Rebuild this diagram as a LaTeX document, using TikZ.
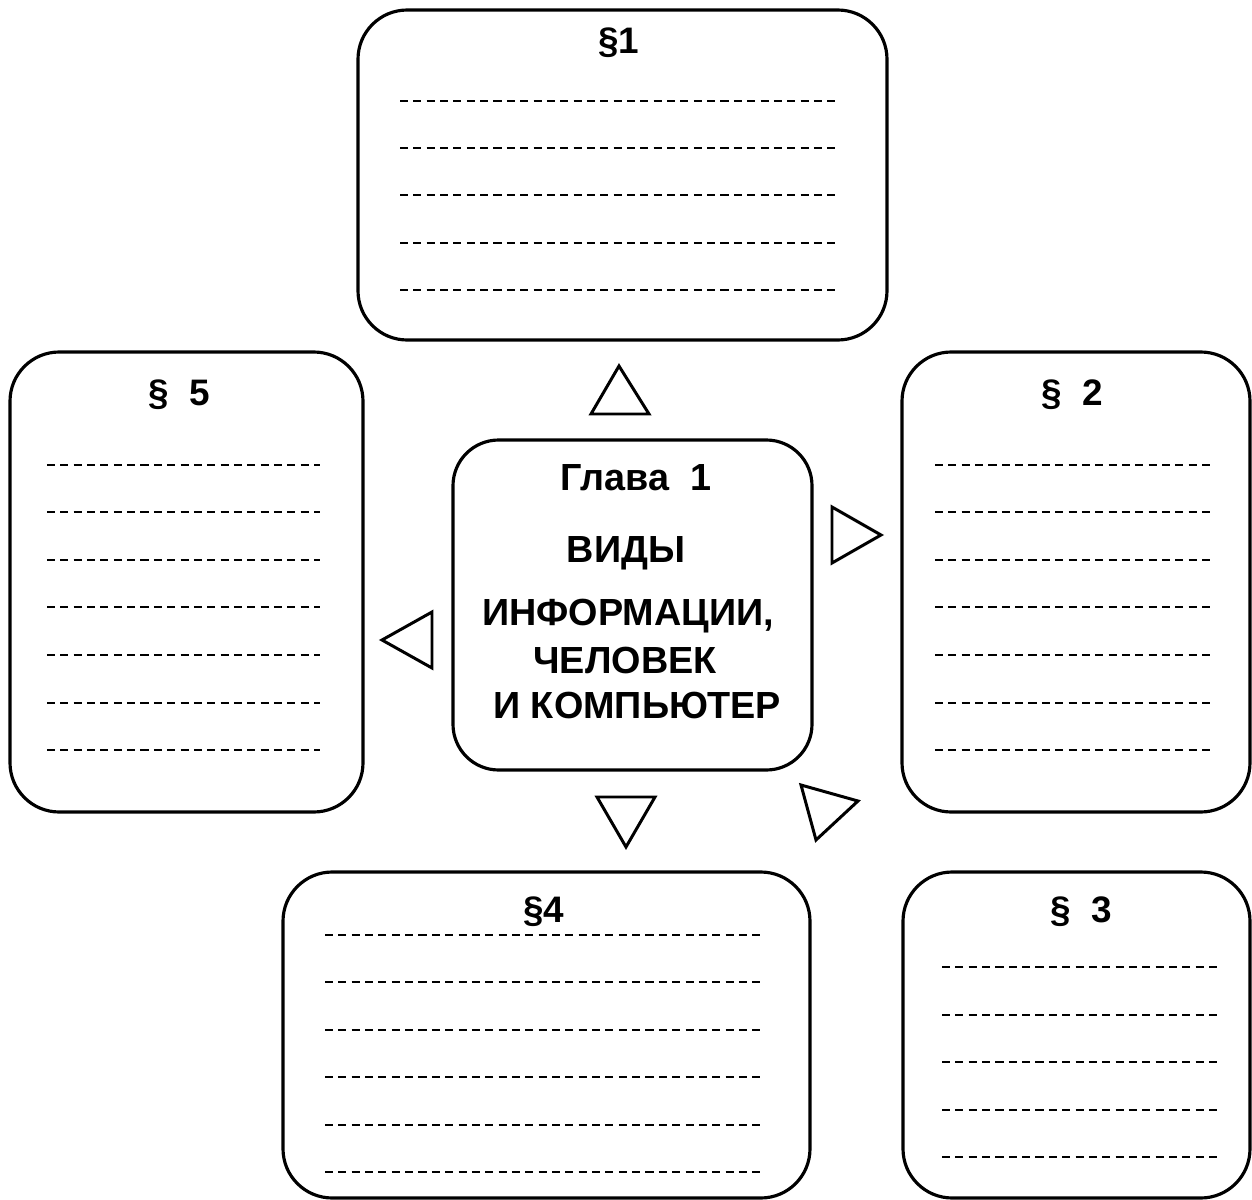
\documentclass[tikz,border=0pt]{standalone}
\usepackage{fontspec}
\setmainfont{Liberation Sans}
\tikzset{
  box/.style={line width=1.8pt, rounded corners=28pt},
  dline/.style={line width=1.6pt, dash pattern=on 4.6pt off 3pt},
  tri/.style={line width=1.7pt, line join=miter},
  lab/.style={anchor=base, inner sep=0pt, font=\fontsize{21}{24}\selectfont\bfseries},
  head/.style={anchor=base, inner sep=0pt, font=\fontsize{21.5}{24}\selectfont\bfseries}
}
\begin{document}
\begin{tikzpicture}[x=0.02cm,y=-0.02cm]
\useasboundingbox (0,0) rectangle (1252,1200);
% boxes
\draw[box] (358,10) rectangle (887,340);
\draw[box] (10,352) rectangle (363,812);
\draw[box] (902,352) rectangle (1250,812);
\draw[box] (283,872) rectangle (810,1198);
\draw[box] (903,872) rectangle (1250,1198);
\draw[box, rounded corners=26pt] (453,440) rectangle (812,770);
% section labels
\node[lab] (s1) at (619,53) {§1};
\node[lab] (s5) at (179,405) {§\ \ 5};
\node[lab] (s2) at (1072,405) {§\ \ 2};
\node[lab] (s4) at (544,922) {§4};
\node[lab] (s3) at (1081,922) {§\ \ 3};
% dashed lines
\foreach \y in {101,148,195,243,290} \draw[dline] (400,\y) -- (838,\y);
\foreach \y in {465,512,560,607,655,703,750} \draw[dline] (47,\y) -- (320,\y);
\foreach \y in {465,512,560,607,655,703,750} \draw[dline] (935,\y) -- (1215,\y);
\foreach \y in {935,982,1030,1077,1125,1172} \draw[dline] (325,\y) -- (762,\y);
\foreach \y in {967,1015,1062,1110,1157} \draw[dline] (942,\y) -- (1218,\y);
% chapter title
\node[head] (ch) at (636,490) {Глава\ \ 1};
\node[head] (t1) at (626,562) {ВИДЫ};
\node[head] (t2) at (628,625) {ИНФОРМАЦИИ,};
\node[head] (t3) at (625,673) {ЧЕЛОВЕК};
\node[head] (t4) at (637,718) {И КОМПЬЮТЕР};
% triangles
\draw[tri] (591,414) -- (619,366) -- (649,414) -- cycle;
\draw[tri] (832,507) -- (881,535) -- (832,563) -- cycle;
\draw[tri] (432,612) -- (382,640) -- (432,668) -- cycle;
\draw[tri] (597,797) -- (655,797) -- (626,847) -- cycle;
\draw[tri] (801,785) -- (858,801) -- (816,840) -- cycle;
\end{tikzpicture}
\end{document}
